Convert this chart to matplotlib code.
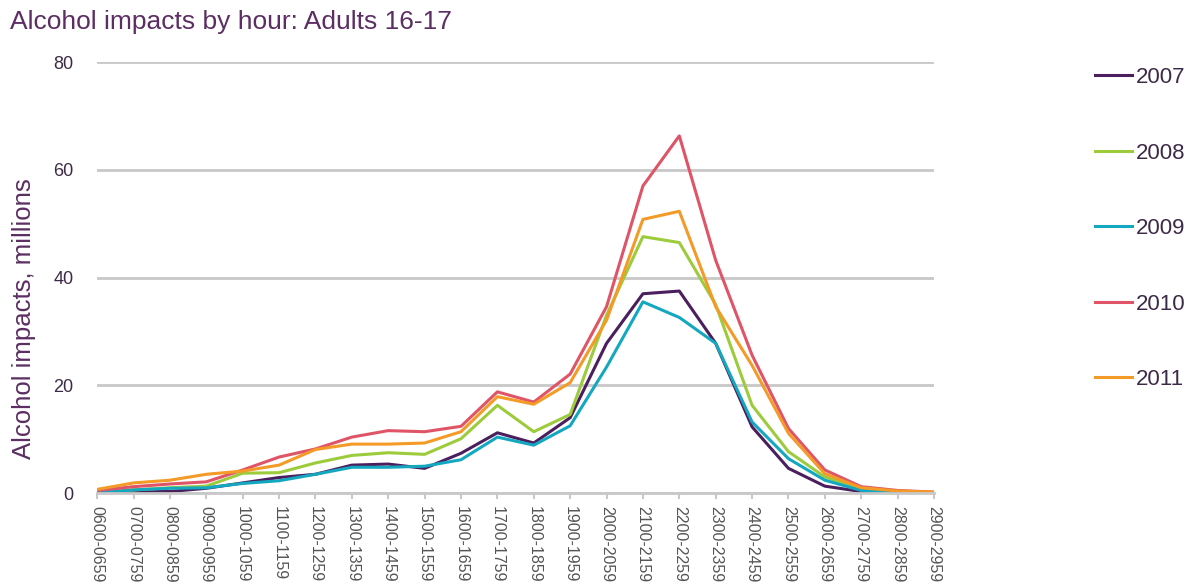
import numpy as np
import matplotlib.pyplot as plt

plt.rcParams['font.family'] = ['Liberation Sans', 'DejaVu Sans']

# Franjas horarias
hours = ['0600-0659', '0700-0759', '0800-0859', '0900-0959', '1000-1059', '1100-1159',
         '1200-1259', '1300-1359', '1400-1459', '1500-1559', '1600-1659', '1700-1759',
         '1800-1859', '1900-1959', '2000-2059', '2100-2159', '2200-2259', '2300-2359',
         '2400-2459', '2500-2559', '2600-2659', '2700-2759', '2800-2859', '2900-2959']

# Valores por año (millones)
y2007 = [0.0, 0.3, 0.3, 0.9, 1.9, 2.9, 3.5, 5.2, 5.4, 4.6, 7.4, 11.2,
         9.3, 14.0, 27.8, 37.0, 37.5, 27.8, 12.3, 4.6, 1.3, 0.3, 0.2, 0.1]
y2008 = [0.2, 0.6, 1.0, 1.3, 3.7, 3.8, 5.6, 7.0, 7.5, 7.2, 10.1, 16.3,
         11.4, 14.6, 33.0, 47.6, 46.5, 35.0, 16.3, 7.7, 3.0, 0.8, 0.2, 0.1]
y2009 = [0.1, 0.6, 0.9, 1.0, 1.8, 2.3, 3.5, 4.8, 4.8, 5.0, 6.2, 10.4,
         8.9, 12.5, 23.4, 35.5, 32.6, 27.8, 13.2, 6.4, 2.4, 0.5, 0.2, 0.1]
y2010 = [0.5, 1.2, 1.7, 2.1, 4.3, 6.7, 8.2, 10.4, 11.6, 11.4, 12.4, 18.8,
         16.9, 22.1, 34.6, 57.0, 66.3, 43.2, 25.6, 12.0, 4.3, 1.2, 0.5, 0.2]
y2011 = [0.7, 1.9, 2.4, 3.5, 4.1, 5.2, 8.1, 9.1, 9.1, 9.3, 11.4, 17.9,
         16.5, 20.5, 32.1, 50.8, 52.3, 34.6, 23.7, 11.1, 3.6, 1.0, 0.4, 0.2]

series = [('2007', y2007, '#4b1f5e'), ('2008', y2008, '#9ccb3b'),
          ('2009', y2009, '#14a8c0'), ('2010', y2010, '#e05468'),
          ('2011', y2011, '#f49a27')]

fig = plt.figure(figsize=(11.99, 5.85), dpi=100)
ax = fig.add_axes([0.081, 0.157, 0.698, 0.737])

x = np.arange(len(hours))
for label, vals, color in series:
    ax.plot(x, vals, color=color, linewidth=2.2, label=label)

ax.set_xlim(0, len(hours) - 1)
ax.set_ylim(0, 80)
ax.set_yticks([0, 20, 40, 60, 80])
ax.yaxis.grid(True, color='#c8c8c8', linewidth=2)
ax.set_axisbelow(True)
for s in ['top', 'right', 'left']:
    ax.spines[s].set_visible(False)
ax.spines['bottom'].set_color('#c8c8c8')
ax.spines['bottom'].set_linewidth(2)

ax.set_xticks(x)
ax.set_xticklabels(hours, rotation=270, fontsize=11.5, color='#555555')
ax.tick_params(axis='x', length=4, color='#c8c8c8', width=1.5, pad=5)
ax.tick_params(axis='y', length=0, labelsize=13, labelcolor='#3d2a48', pad=17)

ax.set_ylabel('Alcohol impacts, millions', fontsize=18.5, color='#5c2e63')
ax.yaxis.set_label_coords(-0.073, 0.404)

fig.text(0.008, 0.962, 'Alcohol impacts by hour: Adults 16-17', fontsize=19,
         color='#5c2e63', va='center', ha='left')

fig.legend(loc='upper left', bbox_to_anchor=(0.913, 0.885), frameon=False,
           borderpad=0, borderaxespad=0,
           fontsize=16, labelspacing=2.45, handlelength=1.7, handletextpad=0.15,
           labelcolor='#3d2a48')

plt.savefig('out.png', dpi=100)
